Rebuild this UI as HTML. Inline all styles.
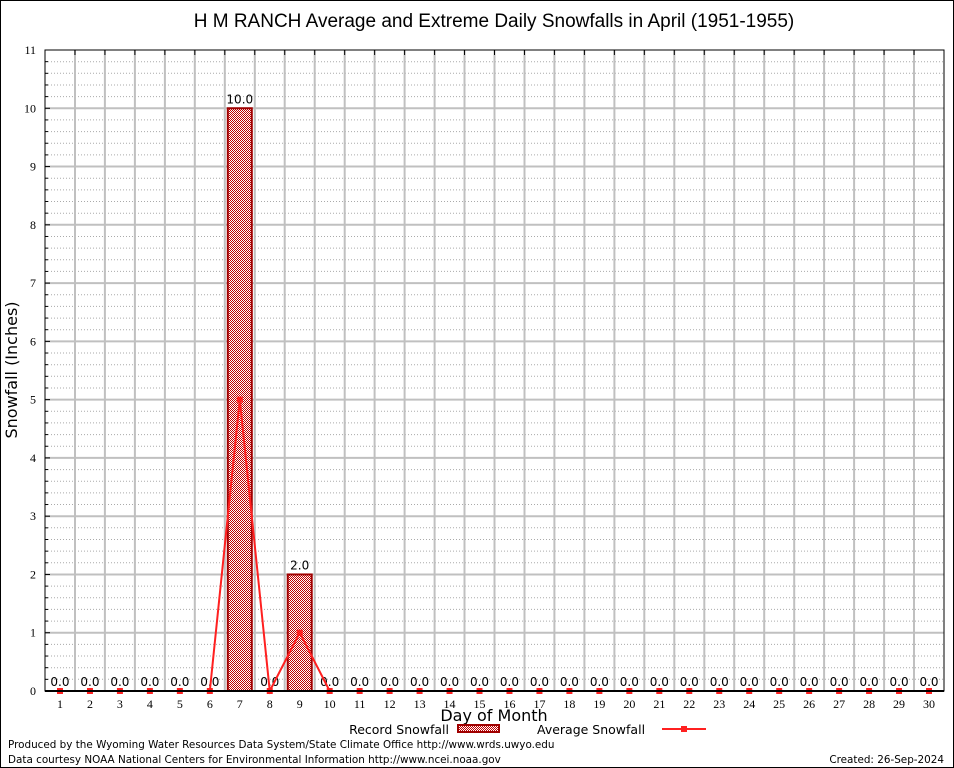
<!DOCTYPE html>
<html><head><meta charset="utf-8"><style>
body{margin:0;background:#fff;}
svg{display:block;font-family:"DejaVu Sans",sans-serif;}
</style></head><body>
<svg id="s" width="954" height="768" xmlns="http://www.w3.org/2000/svg">
<defs>
<pattern id="chk" width="2" height="2" patternUnits="userSpaceOnUse">
<rect width="2" height="2" fill="#fff"/><rect width="1" height="1" fill="#c00000"/><rect x="1" y="1" width="1" height="1" fill="#c00000"/>
</pattern>
</defs>
<rect x="0.5" y="0.5" width="953" height="767" fill="#fff" stroke="#000"/>
<text x="494" y="27" font-size="19" text-anchor="middle" fill="#000" font-family="Liberation Sans,sans-serif">H M RANCH Average and Extreme Daily Snowfalls in April (1951-1955)</text>
<g id="g"></g>
<text transform="translate(17,370) rotate(-90)" font-size="16" text-anchor="middle">Snowfall (Inches)</text>
<text x="494" y="721" font-size="16" text-anchor="middle">Day of Month</text>
<text x="449" y="734" font-size="12.5" text-anchor="end">Record Snowfall</text>
<rect x="458" y="725" width="41" height="7" fill="url(#chk)" stroke="#a00000" stroke-width="2"/>
<text x="537" y="734" font-size="12.5">Average Snowfall</text>
<line x1="662" y1="729" x2="706" y2="729" stroke="#ff2020" stroke-width="2"/>
<rect x="681" y="726" width="6" height="6" fill="#ff2020"/>
<text x="8" y="748" font-size="10.4">Produced by the Wyoming Water Resources Data System/State Climate Office http://www.wrds.uwyo.edu</text>
<text x="8" y="763" font-size="10.4">Data courtesy NOAA National Centers for Environmental Information http://www.ncei.noaa.gov</text>
<text x="944" y="763" font-size="10.4" text-anchor="end">Created:  26-Sep-2024</text>
</svg>
<script>
var L=45,R=944,T=50,B=691,W=(R-L)/30,H=(B-T)/11,h='';
function y(v){return B-v*H;}
for(var i=0;i<55;i++){if(i%5==0)continue;var yy=(B-i*H/5).toFixed(1);h+='<line x1="'+L+'" x2="'+R+'" y1="'+yy+'" y2="'+yy+'" stroke="#aaa" stroke-dasharray="1,2" stroke-width="1"/>';}
for(var i=1;i<30;i++){var xx=(L+i*W).toFixed(1);h+='<line x1="'+xx+'" x2="'+xx+'" y1="'+T+'" y2="'+B+'" stroke="#c0c0c0" stroke-width="2"/>';}
for(var i=1;i<11;i++){var yy=y(i).toFixed(1);h+='<line x1="'+L+'" x2="'+R+'" y1="'+yy+'" y2="'+yy+'" stroke="#c0c0c0" stroke-width="2"/>';}
for(var i=0;i<=11;i++){var yy=y(i);h+='<text x="36" y="'+(yy+4)+'" font-size="12" text-anchor="end" font-family="Liberation Serif,serif">'+i+'</text>';h+='<line x1="'+L+'" x2="'+(L+5)+'" y1="'+yy+'" y2="'+yy+'" stroke="#000"/>';
 for(var k=1;k<5&&i<11;k++){var y2=yy-k*H/5;h+='<line x1="'+L+'" x2="'+(L+3)+'" y1="'+y2+'" y2="'+y2+'" stroke="#000"/>';}}
var rec={7:10,9:2},avg={7:5,9:1},pts=[];
for(var d=1;d<=30;d++){var cx=L+(d-0.5)*W;
 h+='<text x="'+cx+'" y="708" font-size="12" text-anchor="middle" font-family="Liberation Serif,serif">'+d+'</text>';
 var xt=L+d*W;h+='<line x1="'+xt+'" x2="'+xt+'" y1="'+T+'" y2="'+(T+5)+'" stroke="#000"/>';
 var r=rec[d]||0;
 if(r>0)h+='<rect x="'+(cx-12)+'" y="'+y(r)+'" width="24" height="'+(B-y(r))+'" fill="url(#chk)" stroke="#a00000" stroke-width="2"/>';
 h+='<text x="'+cx+'" y="'+(y(r)-5)+'" font-size="12" text-anchor="middle">'+r.toFixed(1)+'</text>';
 pts.push(cx+','+y(avg[d]||0));}
h+='<polyline points="'+pts.join(' ')+'" fill="none" stroke="#ff2020" stroke-width="2"/>';
pts.forEach(function(p){var a=p.split(',');h+='<rect x="'+(a[0]-3)+'" y="'+(a[1]-3)+'" width="6" height="6" fill="#ff2020"/>';});
h+='<rect x="'+L+'" y="'+T+'" width="'+(R-L)+'" height="'+(B-T)+'" fill="none" stroke="#000" stroke-width="1"/>';
h+='<line x1="'+L+'" x2="'+R+'" y1="'+B+'" y2="'+B+'" stroke="#000" stroke-width="2"/>';
document.getElementById('g').innerHTML=h;
</script>
</body></html>
